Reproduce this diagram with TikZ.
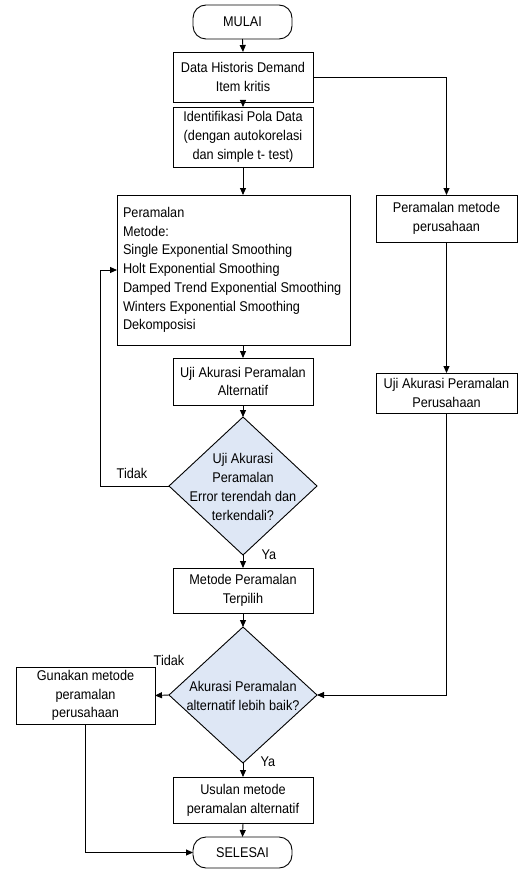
\documentclass[tikz,border=0pt]{standalone}
\usepackage{fontspec}
\setmainfont{Liberation Sans}[FakeStretch=0.9]
\usetikzlibrary{shapes.geometric,arrows.meta,calc}
\definecolor{decfill}{RGB}{222,231,245}
\begin{document}
\begin{tikzpicture}[x=1pt,y=-1pt,
  font=\fontsize{14.1}{18.7}\selectfont,
  every node/.style={inner sep=0pt, outer sep=0pt},
  boxnode/.style={draw, line width=0.9pt, align=center},
  termnode/.style={draw, line width=0.9pt, rounded corners=13pt, align=center},
  decnode/.style={draw, line width=0.9pt, diamond, fill=decfill, inner sep=0pt},
  conn/.style={line width=0.9pt, -{Triangle[length=7pt,width=6pt]}},
  plain/.style={line width=0.9pt}]
\useasboundingbox (0,0) rectangle (518,869);

\node[termnode, minimum width=99pt, minimum height=34pt] (mulai) at (242.5,22) {MULAI};
\node[boxnode, minimum width=140pt, minimum height=50pt] (data) at (243,77) {Data Historis Demand\\Item kritis};
\node[boxnode, minimum width=140pt, minimum height=60pt] (ident) at (243,137) {Identifikasi Pola Data\\(dengan autokorelasi\\dan simple t- test)};
\node[draw, line width=0.9pt, minimum width=233pt, minimum height=150pt] (peram) at (233.5,270) {};
\node[align=left, anchor=west] (peramt) at (123,270)
  {Peramalan\\Metode:\\Single Exponential Smoothing\\Holt Exponential Smoothing\\Damped Trend Exponential Smoothing\\Winters Exponential Smoothing\\Dekomposisi};
\node[boxnode, minimum width=140pt, minimum height=47pt] (ujialt) at (243,381.5) {Uji Akurasi Peramalan\\Alternatif};
\node[decnode, minimum width=148pt, minimum height=138pt] (d1) at (243,486) {};
\node[align=center] (d1t) at (243,487) {Uji Akurasi\\Peramalan\\Error terendah dan\\terkendali?};
\node[boxnode, minimum width=140pt, minimum height=45pt] (metode) at (243,590.5) {Metode Peramalan\\Terpilih};
\node[decnode, minimum width=148pt, minimum height=136pt] (d2) at (243,695) {};
\node[align=center] (d2t) at (243,696) {Akurasi Peramalan\\alternatif lebih baik?};
\node[boxnode, minimum width=139pt, minimum height=57pt] (gunakan) at (85.5,695.5) {Gunakan metode\\peramalan\\perusahaan};
\node[boxnode, minimum width=140pt, minimum height=46pt] (usulan) at (243,800) {Usulan metode\\peramalan alternatif};
\node[termnode, minimum width=99pt, minimum height=31pt] (selesai) at (242.5,852.5) {SELESAI};
\node[boxnode, minimum width=141pt, minimum height=47pt] (rp) at (446.5,218.5) {Peramalan metode\\perusahaan};
\node[boxnode, minimum width=141pt, minimum height=40pt] (ru) at (446.5,393) {Uji Akurasi Peramalan\\Perusahaan};

\node (tidak1) at (132,473) {Tidak};
\node (ya1) at (269,555) {Ya};
\node (tidak2) at (169,660) {Tidak};
\node (ya2) at (268,762) {Ya};

\coordinate (lp) at (100,270);

\draw[conn] (mulai.south) -- (data.north);
\draw[conn] (data.south) -- (ident.north);
\draw[conn] (ident.south) -- (ident.south |- peram.north);
\draw[conn] (data.east) -| (rp.north);
\draw[conn] (ujialt.north |- peram.south) -- (ujialt.north);
\draw[conn] (ujialt.south) -- (d1.north);
\draw[conn] (d1.west) -| (lp) -- (peram.west);
\draw[conn] (d1.south) -- (metode.north);
\draw[conn] (metode.south) -- (d2.north);
\draw[conn] (rp.south) -- (ru.north);
\draw[conn] (ru.south) |- (d2.east);
\draw[conn] (d2.west) -- (gunakan.east);
\draw[conn] (gunakan.south) |- (selesai.west);
\draw[conn] (d2.south) -- (usulan.north);
\draw[conn] (usulan.south) -- (selesai.north);
\end{tikzpicture}
\end{document}
